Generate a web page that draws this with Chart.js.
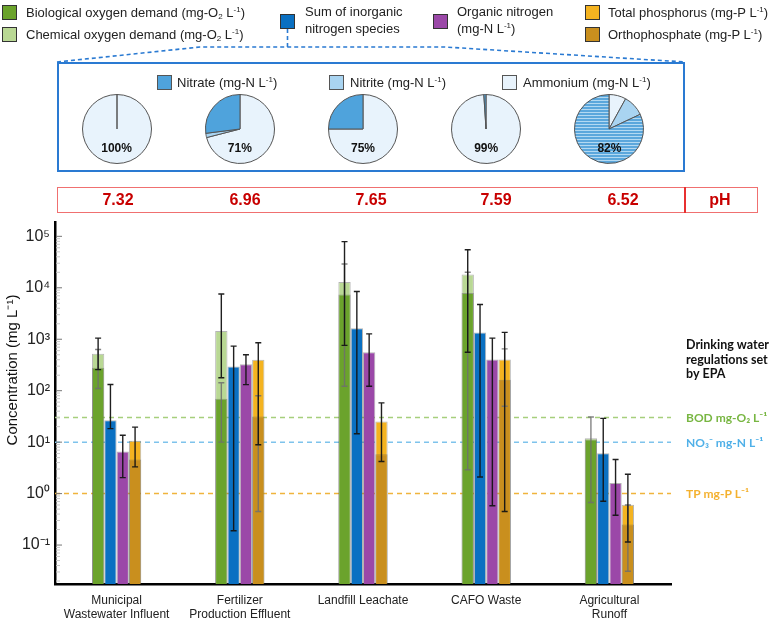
<!DOCTYPE html>
<html><head><meta charset="utf-8">
<script src="https://cdn.jsdelivr.net/npm/chart.js@4.4.1/dist/chart.umd.min.js"></script>
<style>
html,body{margin:0;padding:0;background:#fff}
body{width:769px;height:625px;position:relative;overflow:hidden;font-family:"Liberation Sans",Arial,sans-serif;color:#222}
.a{position:absolute}
.sq{position:absolute;width:15px;height:15px;border:1px solid #333;box-sizing:border-box}
.lt{position:absolute;font-size:13px;line-height:17px;white-space:nowrap;color:#222}
sub{font-size:8px;vertical-align:-2px;line-height:0}
sup{font-size:8px;vertical-align:5px;line-height:0}
.pie{position:absolute;width:70px;height:70px}
.pct{position:absolute;width:60px;text-align:center;font-weight:bold;font-size:12px;line-height:14px;color:#111}
.ph{position:absolute;top:187px;height:26px;line-height:26px;color:#c80000;font-weight:bold;font-size:16px;font-family:"Liberation Sans Narrow","Liberation Sans",Arial,sans-serif;transform:translateX(-50%);white-space:nowrap}
</style></head>
<body>
<canvas id="main" class="a" style="left:0;top:0" width="769" height="625"></canvas>

<!-- top legend -->
<div class="sq" style="left:2px;top:5px;background:#6ba32c"></div>
<div class="lt" style="left:26px;top:4px">Biological oxygen demand (mg-O<sub>2</sub> L<sup>-1</sup>)</div>
<div class="sq" style="left:2px;top:27px;background:#b9d894"></div>
<div class="lt" style="left:26px;top:26px">Chemical oxygen demand (mg-O<sub>2</sub> L<sup>-1</sup>)</div>
<div class="sq" style="left:280px;top:14px;background:#0a70c2"></div>
<div class="lt" style="left:305px;top:3px">Sum of inorganic<br>nitrogen species</div>
<div class="sq" style="left:433px;top:14px;background:#9b48a8"></div>
<div class="lt" style="left:457px;top:3px">Organic nitrogen<br>(mg-N L<sup>-1</sup>)</div>
<div class="sq" style="left:585px;top:5px;background:#f4b320"></div>
<div class="lt" style="left:608px;top:4px">Total phosphorus (mg-P L<sup>-1</sup>)</div>
<div class="sq" style="left:585px;top:27px;background:#c98f1e"></div>
<div class="lt" style="left:608px;top:26px">Orthophosphate (mg-P L<sup>-1</sup>)</div>

<svg class="a" style="left:0;top:0" width="769" height="70">
  <polyline points="287.5,29 287.5,47" fill="none" stroke="#2a7ad2" stroke-width="1.6" stroke-dasharray="4,3"/>
  <polyline points="57,62 200,47 445,47 685,62" fill="none" stroke="#2a7ad2" stroke-width="1.6" stroke-dasharray="4,3"/>
</svg>

<!-- pie box -->
<div class="a" style="left:57px;top:62px;width:628px;height:110px;border:2px solid #2a7ad2;box-sizing:border-box"></div>
<div class="sq" style="left:157px;top:75px;background:#4fa3dc;border-color:#555"></div>
<div class="lt" style="left:177px;top:74px">Nitrate (mg-N L<sup>-1</sup>)</div>
<div class="sq" style="left:329px;top:75px;background:#a9d4f1;border-color:#555"></div>
<div class="lt" style="left:350px;top:74px">Nitrite (mg-N L<sup>-1</sup>)</div>
<div class="sq" style="left:502px;top:75px;background:#e8f3fc;border-color:#555"></div>
<div class="lt" style="left:523px;top:74px">Ammonium (mg-N L<sup>-1</sup>)</div>
<div id="pies"></div>

<!-- pH row -->
<div class="a" style="left:57px;top:187px;width:701px;height:26px;border:1.5px solid #f07070;box-sizing:border-box"></div>
<div class="a" style="left:684px;top:187px;width:1.5px;height:26px;background:#e83030"></div>
<div id="phrow"></div>

<script>
// ---------- data ----------
const categories = [['Municipal','Wastewater Influent'],['Fertilizer','Production Effluent'],'Landfill Leachate','CAFO Waste',['Agricultural','Runoff']];
const bod  = [280, 70, 7400, 7900, 11.2];
const cod  = [523, 1440, 12900, 18200, 11.9];
const din  = [26.5, 296, 1640, 1360, 6.1];
const orgN = [6.6, 325, 560, 405, 1.6];
const tp   = [10.7, 400, 25.3, 405, 0.61];
const op   = [4.6, 31.6, 5.8, 163, 0.25];

const bodLo = [110, 10, 122, 2.9, 0.67];
const bodHi = [630, 143, 29000, 20000, 30.8];
const codLo = [257, 178, 760, 560, null];
const codHi = [1050, 7600, 79000, 55000, null];
const dinLo = [18.3, 0.19, 14.6, 2.1, 0.71];
const dinHi = [132, 735, 8500, 4740, 29];
const orgLo = [2.04, 131, 122, 0.58, 0.38];
const orgHi = [13.6, 500, 1270, 1050, 4.6];
const tpLo  = [3.3, 8.9, 4.2, 0.45, 0.115];
const tpHi  = [19.6, 855, 58, 1360, 2.37];
const opLo  = [null, 0.45, null, 50, 0.031];
const opHi  = [null, 80, null, 650, 0.6];

const decadeExps   = [-1, 0, 1, 2, 3, 4, 5];
const decadeLabels = ['10⁻¹','10⁰','10¹','10²','10³','10⁴','10⁵'];
const yMin = 0.0175, yMax = 190000;

const thresholdValues = [30, 10, 1];
const thresholdLabels = ['BOD mg-O₂ L⁻¹', 'NO₃⁻ mg-N L⁻¹', 'TP mg-P L⁻¹'];
const epaNote = ['Drinking water', 'regulations set', 'by EPA'];

const ammonium = [100, 71, 75, 99, 8];
const nitrite  = [0, 2, 0, 0, 10];
const nitrate  = [0, 27, 25, 1, 82];
const pieLabels = ['100%', '71%', '75%', '99%', '82%'];
const phValues = ['7.32', '6.96', '7.65', '7.59', '6.52'];

// ---------- styles ----------
const COL = {bod:'#6ba32c', cod:'#b9d894', din:'#0a70c2', orgN:'#9b48a8', tp:'#f4b320', op:'#c98f1e',
  nitrate:'#4fa3dc', nitrite:'#a9d4f1', amm:'#e8f3fc'};
const thresholdColors = ['#a6cf7c', '#7ec3ec', '#f0b43c'];
const thresholdTextColors = ['#78b642', '#4fb0e8', '#f4b12f'];
const BLACK = 'rgba(20,20,20,0.95)', GREY = 'rgba(110,110,110,0.85)';
const phX = [118, 245, 371, 496, 623];

Chart.defaults.font.family = '"Liberation Sans", Arial, sans-serif';

const overlay = {
  id: 'overlay',
  beforeDatasetsDraw(chart) {
    const {ctx, chartArea: ca, scales: {y}} = chart;
    ctx.save();
    ctx.lineWidth = 1.5;
    ctx.setLineDash([5, 4]);
    thresholdValues.forEach((v, i) => {
      const py = y.getPixelForValue(v);
      ctx.strokeStyle = thresholdColors[i];
      ctx.beginPath(); ctx.moveTo(ca.left, py); ctx.lineTo(ca.right, py); ctx.stroke();
    });
    ctx.restore();
  },
  afterDatasetsDraw(chart) {
    const {ctx, scales: {y}} = chart;
    ctx.save();
    ctx.lineWidth = 1.4;
    const drawOrder = chart.data.datasets.map((ds, di) => di);
    drawOrder.sort((a, b) => (chart.data.datasets[a].errColor === GREY ? 0 : 1) - (chart.data.datasets[b].errColor === GREY ? 0 : 1));
    drawOrder.forEach(di => {
      const ds = chart.data.datasets[di];
      const meta = chart.getDatasetMeta(di);
      meta.data.forEach((bar, j) => {
        const lo = ds.errLo[j], hi = ds.errHi[j];
        if (lo == null || hi == null) return;
        const x = bar.x, y1 = y.getPixelForValue(lo), y2 = y.getPixelForValue(hi);
        ctx.strokeStyle = ds.errColor;
        ctx.beginPath();
        ctx.moveTo(x, y1); ctx.lineTo(x, y2);
        ctx.moveTo(x - 3, y1); ctx.lineTo(x + 3, y1);
        ctx.moveTo(x - 3, y2); ctx.lineTo(x + 3, y2);
        ctx.stroke();
      });
    });
    ctx.restore();
  },
  afterDraw(chart) {
    const {ctx, chartArea: ca, scales: {y}} = chart;
    ctx.save();
    y.ticks.forEach(t => {
      const e = Math.log10(t.value);
      const major = Math.abs(e - Math.round(e)) < 1e-9;
      const py = y.getPixelForValue(t.value);
      ctx.strokeStyle = major ? '#777' : '#c8c8c8';
      ctx.lineWidth = 1;
      ctx.beginPath(); ctx.moveTo(ca.left + 1, py); ctx.lineTo(ca.left + (major ? 7 : 5), py); ctx.stroke();
    });
    ctx.save();
    ctx.translate(13, 370);
    ctx.rotate(-Math.PI / 2);
    ctx.font = '15px "Liberation Sans", Arial, sans-serif';
    ctx.fillStyle = '#111';
    ctx.textAlign = 'center'; ctx.textBaseline = 'middle';
    ctx.fillText('Concentration (mg L⁻¹)', 0, 0);
    ctx.restore();
    ctx.textAlign = 'left'; ctx.textBaseline = 'middle';
    ctx.font = 'bold 12.5px Lato, "Open Sans", sans-serif';
    ctx.fillStyle = '#111';
    epaNote.forEach((s, i) => ctx.fillText(s, ca.right + 15, 345 + i * 14.5));
    ctx.font = 'bold 12px Lato, "Open Sans", sans-serif';
    thresholdValues.forEach((v, i) => {
      ctx.fillStyle = thresholdTextColors[i];
      ctx.fillText(thresholdLabels[i], ca.right + 15, y.getPixelForValue(v) + 1);
    });
    ctx.restore();
  }
};

const mk = (label, data, color, stack, order, lo, hi, ec) => ({
  label, data, backgroundColor: color, stack, order, errLo: lo, errHi: hi, errColor: ec,
  borderWidth: 1, borderColor: 'rgba(90,90,90,0.45)'
});

const mainChart = new Chart(document.getElementById('main'), {
  type: 'bar',
  data: {
    labels: categories,
    datasets: [
      mk('Biological oxygen demand', bod, COL.bod, 'O', 0, bodLo, bodHi, GREY),
      mk('Chemical oxygen demand', cod, COL.cod, 'O', 1, codLo, codHi, BLACK),
      mk('Sum of inorganic nitrogen species', din, COL.din, 'N', 2, dinLo, dinHi, BLACK),
      mk('Organic nitrogen', orgN, COL.orgN, 'G', 3, orgLo, orgHi, BLACK),
      mk('Orthophosphate', op, COL.op, 'P', 4, opLo, opHi, GREY),
      mk('Total phosphorus', tp, COL.tp, 'P', 5, tpLo, tpHi, BLACK)
    ]
  },
  options: {
    responsive: false, animation: false, devicePixelRatio: 1,
    layout: {padding: {top: 222, right: 98, left: 0, bottom: 0}},
    plugins: {legend: {display: false}, tooltip: {enabled: false}},
    datasets: {bar: {categoryPercentage: 0.4, barPercentage: 1}},
    scales: {
      x: {
        stacked: true,
        grid: {display: false, drawTicks: false},
        border: {color: '#000', width: 2.5},
        ticks: {font: {size: 12}, color: '#222', padding: 9, maxRotation: 0, autoSkip: false},
        afterFit(s) { s.height = 41; }
      },
      y: {
        type: 'logarithmic', stacked: false, min: yMin, max: yMax,
        grid: {display: false, drawTicks: false},
        border: {color: '#000', width: 2.5},
        ticks: {
          autoSkip: false, font: {size: 16}, color: '#222', padding: 5,
          callback(v) {
            const e = Math.log10(v), r = Math.round(e);
            if (Math.abs(e - r) < 1e-9) { const k = decadeExps.indexOf(r); return k >= 0 ? decadeLabels[k] : ''; }
            return '';
          }
        },
        afterBuildTicks(scale) {
          const t = [];
          for (let e = -2; e <= 5; e++) for (let m = 1; m <= 9; m++) {
            const v = m * Math.pow(10, e);
            if (v >= yMin && v <= yMax) t.push({value: v});
          }
          scale.ticks = t;
        },
        afterFit(s) { s.width = 55; }
      }
    }
  },
  plugins: [overlay]
});

// ---------- pies ----------
const pat = document.createElement('canvas'); pat.width = 6; pat.height = 3;
const pc = pat.getContext('2d');
pc.fillStyle = '#5ba7dc'; pc.fillRect(0, 0, 6, 3);
pc.fillStyle = '#b3d9f2'; pc.fillRect(0, 0, 6, 1);
const hatch = document.createElement('canvas').getContext('2d').createPattern(pat, 'repeat');

const piesDiv = document.getElementById('pies');
const xs = mainChart.scales.x;
for (let i = 0; i < pieLabels.length; i++) {
  const cx = xs.getPixelForValue(i);
  const cv = document.createElement('canvas');
  cv.width = 70; cv.height = 70; cv.className = 'pie';
  cv.style.left = (cx - 35) + 'px'; cv.style.top = '94px';
  piesDiv.appendChild(cv);
  new Chart(cv, {
    type: 'pie',
    data: {labels: ['Ammonium', 'Nitrite', 'Nitrate'],
      datasets: [{data: [ammonium[i], nitrite[i], nitrate[i]],
        backgroundColor: [COL.amm, COL.nitrite, i === 4 ? hatch : COL.nitrate],
        borderColor: '#555', borderWidth: 1}]},
    options: {responsive: false, animation: false, devicePixelRatio: 1,
      layout: {padding: 0},
      plugins: {legend: {display: false}, tooltip: {enabled: false}}}
  });
  const lab = document.createElement('div');
  lab.className = 'pct'; lab.textContent = pieLabels[i];
  lab.style.left = (cx - 30) + 'px'; lab.style.top = '141px';
  piesDiv.appendChild(lab);
}

// ---------- pH row ----------
const phDiv = document.getElementById('phrow');
phValues.forEach((v, i) => {
  const d = document.createElement('div'); d.className = 'ph'; d.textContent = v; d.style.left = phX[i] + 'px';
  phDiv.appendChild(d);
});
const phl = document.createElement('div'); phl.className = 'ph'; phl.textContent = 'pH'; phl.style.left = '720px';
phDiv.appendChild(phl);
</script>
</body></html>
